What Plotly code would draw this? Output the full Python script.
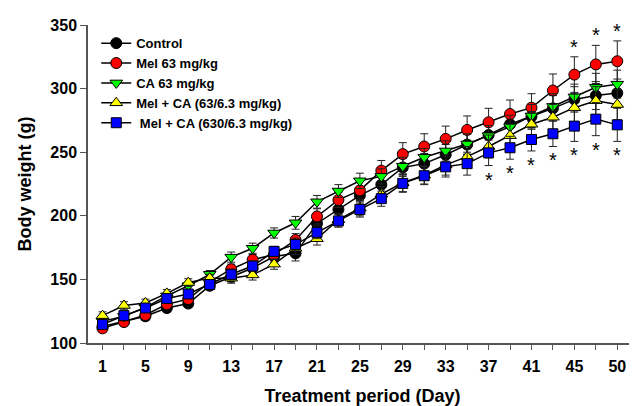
import plotly.graph_objects as go

days = [1, 3, 5, 7, 9, 11, 13, 15, 17, 19, 21, 23, 25, 27, 29, 31, 33, 35, 37, 39, 41, 43, 45, 47, 50]

control = [113, 117, 121, 127.5, 131, 145, 152, 159, 168, 170.5, 194, 205, 216, 224.5, 238, 241, 248, 256, 263.5, 272, 278, 284.5, 291.5, 294.5, 296.5]
mel = [111.5, 116.5, 122, 130.5, 134.5, 148, 158, 165.5, 169.5, 181, 199.5, 212.5, 220, 235.5, 248.5, 254.5, 260.5, 267.5, 273.5, 280, 285, 298.5, 311, 319, 321.5]
ca = [117, 121, 128, 137, 145, 154, 167.5, 174.5, 186.5, 194.5, 211, 219.5, 227.5, 231, 239, 246, 251, 256.5, 263, 270, 278.5, 286, 293.5, 301, 303.5]
melca_low = [121.5, 129.5, 131.5, 139, 147.5, 151, 151, 153.5, 162, 174.5, 182, 197, 206, 217, 226, 232, 240, 246.5, 254.5, 263, 272, 277.5, 285, 290.5, 287.5]
melca_high = [114.5, 121.5, 127.5, 135, 138.5, 146, 154, 160.5, 172, 177.5, 187, 196, 205, 213.5, 225.5, 231.5, 238.5, 241, 249.5, 253.5, 260, 264.5, 270.5, 276, 271.5]

err_control = [3, 3, 3, 3, 3, 3, 4, 4, 5, 6, 6, 6, 6, 7, 7, 8, 8, 8, 9, 9, 10, 10, 10, 11, 11]
err_mel = [3, 3, 3, 3, 3, 3, 4, 4, 5, 5, 6, 6, 7, 8, 9, 10, 10, 11, 11, 11, 11, 13, 14, 15, 16]
err_ca = [3, 3, 3, 3, 3, 3, 4, 4, 4, 5, 5, 5, 6, 6, 7, 7, 8, 8, 8, 9, 9, 10, 10, 11, 11]
err_melca_low = [3, 3, 3, 3, 3, 3, 4, 4, 4, 5, 5, 5, 6, 6, 7, 7, 8, 8, 9, 9, 10, 10, 11, 11, 12]
err_melca_high = [3, 3, 3, 3, 3, 3, 4, 4, 4, 5, 5, 5, 6, 6, 7, 7, 8, 9, 10, 9, 9, 10, 12, 13, 13]

names = ["Control", "Mel 63 mg/kg", "CA 63 mg/kg", "Mel + CA (63/6.3 mg/kg)", " Mel + CA (630/6.3 mg/kg)"]
x_ticks_labelled = [1, 5, 9, 13, 17, 21, 25, 29, 33, 37, 41, 45, 50]
y_ticks = [100, 150, 200, 250, 300, 350]

# significance marks (indices of days)
sig_mel_up = [22, 23, 24]
sig_high_down = [18, 19, 20, 21, 22, 23, 24]

xpos = list(range(len(days)))

series = [
    (control, err_control, names[0], "circle", "#000000", 11),
    (mel, err_mel, names[1], "circle", "#ff0000", 11),
    (ca, err_ca, names[2], "triangle-down", "#00ff00", 11),
    (melca_low, err_melca_low, names[3], "triangle-up", "#ffff00", 11),
    (melca_high, err_melca_high, names[4], "square", "#0000ff", 10),
]

fig = go.Figure()
for vals, err, name, sym, col, sz in series:
    fig.add_trace(go.Scatter(
        x=xpos, y=vals, name=name, mode="lines+markers",
        line=dict(color="black", width=1.5),
        marker=dict(symbol=sym, size=sz, color=col, line=dict(color="black", width=1)),
        error_y=dict(type="data", array=err, visible=True, color="#222222", thickness=1, width=4),
    ))

star_font = dict(size=20, color="black", family="Liberation Sans")
for i in sig_mel_up:
    fig.add_annotation(x=xpos[i], y=mel[i] + err_mel[i], text="*", showarrow=False,
                       yanchor="bottom", yshift=-3, font=star_font)
for i in sig_high_down:
    fig.add_annotation(x=xpos[i], y=melca_high[i] - err_melca_high[i], text="*", showarrow=False,
                       yanchor="top", yshift=-1, font=star_font)

tickvals = xpos
ticktext = [str(d) if d in x_ticks_labelled else "" for d in days]

fig.update_layout(
    width=629, height=398,
    margin=dict(l=80, r=0, t=17, b=58),
    plot_bgcolor="white", paper_bgcolor="white",
    font=dict(family="Liberation Sans, Arial", color="black"),
    showlegend=True,
    legend=dict(x=0.015, y=0.99, xanchor="left", yanchor="top", bgcolor="rgba(0,0,0,0)",
                font=dict(size=13, weight="bold", color="black"), tracegroupgap=0, itemwidth=30),
    xaxis=dict(range=[-0.676, 24.92], tickmode="array", tickvals=tickvals, ticktext=ticktext,
               showline=True, linecolor="#555555", linewidth=1.5, ticks="outside", ticklen=5,
               tickcolor="#555555", showgrid=False, zeroline=False, ticklabelstandoff=3,
               tickfont=dict(size=16, weight="bold"),
               title=dict(text="Treatment period (Day)", font=dict(size=18, weight="bold"), standoff=18)),
    yaxis=dict(range=[100, 350], tickmode="array", tickvals=y_ticks,
               showline=True, linecolor="#555555", linewidth=1.5, ticks="outside", ticklen=6,
               tickcolor="#555555", showgrid=False, zeroline=False,
               tickfont=dict(size=16, weight="bold"),
               title=dict(text="Body weight (g)", font=dict(size=18, weight="bold"), standoff=14)),
)

fig.write_html("out.html")
